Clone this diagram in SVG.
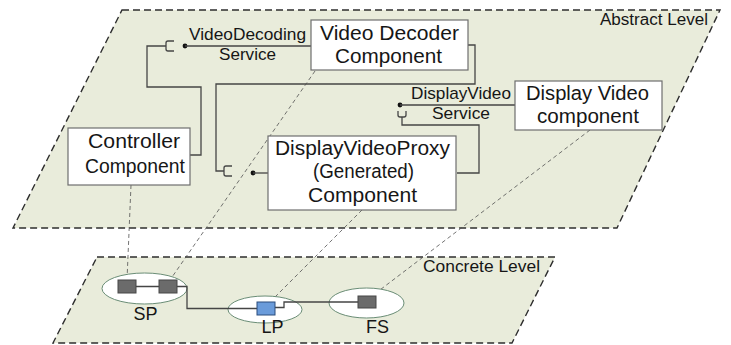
<svg xmlns="http://www.w3.org/2000/svg" width="731" height="345" viewBox="0 0 731 345">
<style>
.plane{fill:#e9ecdb;stroke:#2e2e2e;stroke-width:1.4;stroke-dasharray:7 4}
.box{fill:#fff;stroke:#6e6e6e;stroke-width:1.2}
.conn{fill:none;stroke:#454545;stroke-width:1.3}
.map{fill:none;stroke:#505050;stroke-width:0.8;stroke-dasharray:4 3}
.t{font-family:"Liberation Sans",Arial,sans-serif;fill:#161616}
.big{font-size:20px}
.lbl{font-size:17px}
.lvl{font-size:16px}
.nm{font-size:18px}
.ell{fill:#fff;stroke:#6a8d76;stroke-width:1}
.node{fill:#6b6b6b;stroke:#474747;stroke-width:1}
.nodeb{fill:#6a9bda;stroke:#2b4c7c;stroke-width:1}
</style>
<g id="planes">
<polygon class="plane" points="122,10 720,10 617,228 13,228"/>
<polygon class="plane" points="97,257 555,257 512,343 53,343"/>
<text class="t lvl" x="600" y="25" textLength="108" lengthAdjust="spacingAndGlyphs">Abstract Level</text>
<text class="t lvl" x="423" y="272" textLength="117" lengthAdjust="spacingAndGlyphs">Concrete Level</text>
</g>
<g id="connectors">
<path class="conn" d="M190,155 H201 V87 H147 V46 H166"/>
<path class="conn" d="M174,41 H168 Q166,41 166,43 V49 Q166,51 168,51 H174"/>
<circle cx="185" cy="46" r="2.4" fill="#111"/>
<path class="conn" d="M185,46 H311"/>
<path class="conn" d="M468,45 H475 V84 H216 V171 H224"/>
<path class="conn" d="M232,166 H226 Q224,166 224,168 V174 Q224,176 226,176 H232"/>
<circle cx="253" cy="173" r="2.4" fill="#111"/>
<path class="conn" d="M253,173 H268"/>
<circle cx="400" cy="105" r="2.4" fill="#111"/>
<path class="conn" d="M400,105 H515"/>
<path class="conn" d="M398,111 V115 Q398,117 400,117 H404 Q406,117 406,115 V111"/>
<path class="conn" d="M402,117 V125 H479 V173 H457"/>
<text class="t lbl" x="189" y="40" textLength="117" lengthAdjust="spacingAndGlyphs">VideoDecoding</text>
<text class="t lbl" x="219" y="60" textLength="57" lengthAdjust="spacingAndGlyphs">Service</text>
<text class="t lbl" x="411" y="99" textLength="100" lengthAdjust="spacingAndGlyphs">DisplayVideo</text>
<text class="t lbl" x="432" y="119" textLength="58" lengthAdjust="spacingAndGlyphs">Service</text>
<path class="map" d="M131,185 L127,280"/>
<path class="map" d="M315,71 L170,280"/>
<path class="map" d="M362,210 L270,302"/>
<path class="map" d="M590,130 L372,296"/>
</g>
<g id="video-decoder">
<rect class="box" x="311" y="20" width="157" height="50"/>
<text class="t big" x="320" y="40" textLength="139" lengthAdjust="spacingAndGlyphs">Video Decoder</text>
<text class="t big" x="335" y="63" textLength="107" lengthAdjust="spacingAndGlyphs">Component</text>
</g>
<g id="controller">
<rect class="box" x="68" y="128" width="122" height="57"/>
<text class="t big" x="88" y="148" textLength="92" lengthAdjust="spacingAndGlyphs">Controller</text>
<text class="t big" x="85" y="173" textLength="100" lengthAdjust="spacingAndGlyphs">Component</text>
</g>
<g id="proxy">
<rect class="box" x="268" y="136" width="188" height="74"/>
<text class="t big" x="275" y="155" textLength="175" lengthAdjust="spacingAndGlyphs">DisplayVideoProxy</text>
<text class="t big" x="313" y="178" textLength="101" lengthAdjust="spacingAndGlyphs">(Generated)</text>
<text class="t big" x="308" y="202" textLength="109" lengthAdjust="spacingAndGlyphs">Component</text>
</g>
<g id="display-video">
<rect class="box" x="515" y="81" width="147" height="49"/>
<text class="t big" x="526" y="100" textLength="123" lengthAdjust="spacingAndGlyphs">Display Video</text>
<text class="t big" x="537" y="123" textLength="102" lengthAdjust="spacingAndGlyphs">component</text>
</g>
<g id="sp">
<ellipse class="ell" cx="144.5" cy="288.5" rx="42.5" ry="15.5"/>
<text class="t nm" x="145.5" y="320" text-anchor="middle">SP</text>
</g>
<g id="lp">
<ellipse class="ell" cx="265" cy="309.5" rx="37" ry="13.5"/>
<text class="t nm" x="272.5" y="333" text-anchor="middle">LP</text>
</g>
<g id="fs">
<ellipse class="ell" cx="366.5" cy="303" rx="37.5" ry="15"/>
<text class="t nm" x="377.5" y="333" text-anchor="middle">FS</text>
</g>
<g id="concrete-links">
<path class="conn" d="M136,286.5 H159 M177,286.5 H187 V308.5 H257 M275,307.5 H284 V302 H358"/>
<rect class="node" x="118" y="280" width="18" height="13"/>
<rect class="node" x="159" y="280" width="18" height="13"/>
<rect class="nodeb" x="257" y="302" width="18" height="13"/>
<rect class="node" x="358" y="296" width="18" height="12"/>
</g>
</svg>
